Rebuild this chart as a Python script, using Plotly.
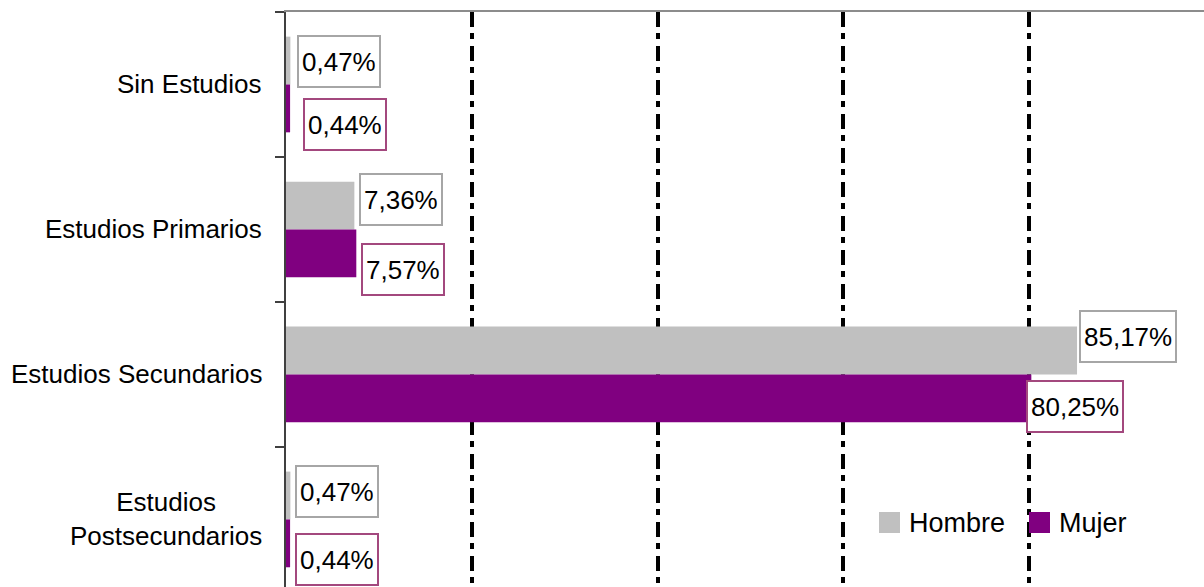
import plotly.graph_objects as go

# Nivel de estudios por sexo (%)
categorias = ["Sin Estudios", "Estudios Primarios", "Estudios Secundarios",
              "Estudios<br>Postsecundarios"]
series = ["Hombre", "Mujer"]
hombre = [0.47, 7.36, 85.17, 0.47]
mujer = [0.44, 7.57, 80.25, 0.44]

colores = {"Hombre": "#C0C0C0", "Mujer": "#800080"}
borde_etiqueta = {"Hombre": "#A6A6A6", "Mujer": "#A3487E"}

# desplazamiento (px) de cada etiqueta de datos respecto al extremo de su barra
desplaz_x = {"Hombre": [7, 5, 2, 5], "Mujer": [13, 5, -5, 5]}
desplaz_y = {"Hombre": [23, 30, 38, 28], "Mujer": [-40, -40, -32, -40]}

FUENTE = "Arial, Liberation Sans, sans-serif"
W, H = 1204, 587
ML, MT = 286, 12
PW, PH = W - ML, H - MT

fig = go.Figure()
for nombre, valores in zip(series, [hombre, mujer]):
    fig.add_trace(go.Bar(
        name=nombre, y=categorias, x=valores, orientation="h",
        marker=dict(color=colores[nombre], line=dict(width=0)),
        showlegend=False,
    ))


def fmt(v):
    return f"{v:.2f}".replace(".", ",") + "%"


annotations = []
for nombre, valores in zip(series, [hombre, mujer]):
    for i, (cat, v) in enumerate(zip(categorias, valores)):
        annotations.append(dict(
            x=v, y=cat, xref="x", yref="y", text=fmt(v),
            xanchor="left", yanchor="middle",
            xshift=desplaz_x[nombre][i], yshift=desplaz_y[nombre][i],
            showarrow=False, font=dict(family=FUENTE, size=26, color="black"),
            bgcolor="white", bordercolor=borde_etiqueta[nombre],
            borderwidth=2, borderpad=3, height=43,
        ))

# etiquetas de categoría (centradas línea a línea)
for cat in categorias:
    annotations.append(dict(
        x=0, y=cat, xref="paper", yref="y", text=cat,
        xanchor="right", yanchor="middle", xshift=-22, align="center",
        showarrow=False, font=dict(family=FUENTE, size=26, color="black"),
    ))


# leyenda dibujada a mano para obtener cuadros de mayor tamaño
def px_x(px):
    return (px - ML) / PW


def px_y(py):
    return (H - py) / PH


shapes = []
leyenda_x = {"Hombre": 879, "Mujer": 1029}
for nombre in series:
    x0 = leyenda_x[nombre]
    shapes.append(dict(
        type="rect", xref="paper", yref="paper",
        x0=px_x(x0), x1=px_x(x0 + 21), y0=px_y(533), y1=px_y(512),
        fillcolor=colores[nombre], line=dict(width=0), layer="above",
    ))
    annotations.append(dict(
        x=px_x(x0 + 28), y=px_y(523), xref="paper", yref="paper",
        text=nombre, xanchor="left", yanchor="middle", showarrow=False,
        font=dict(family=FUENTE, size=27, color="black"),
    ))

fig.update_layout(
    width=W, height=H,
    margin=dict(l=ML, r=0, t=MT, b=0, pad=0),
    paper_bgcolor="white", plot_bgcolor="white",
    barmode="group", bargap=0.34, bargroupgap=0,
    annotations=annotations, shapes=shapes,
    font=dict(family=FUENTE, size=26, color="black"),
)
fig.update_xaxes(
    range=[0, 98.84], side="top", tickmode="array", tickvals=[20, 40, 60, 80],
    showticklabels=False, ticks="", showgrid=True, gridcolor="black",
    gridwidth=3.5, griddash="15px,6px,6px,7px", zeroline=False,
    showline=True, linecolor="#8C8C8C", linewidth=2,
)
fig.update_yaxes(
    type="category", categoryorder="array", categoryarray=categorias,
    range=[3.466, -0.5], showticklabels=False, tickson="boundaries",
    ticks="outside", ticklen=9, tickwidth=2, tickcolor="#404040",
    showgrid=False, zeroline=False,
    showline=True, linecolor="#404040", linewidth=2,
)

fig.write_html("out.html")
